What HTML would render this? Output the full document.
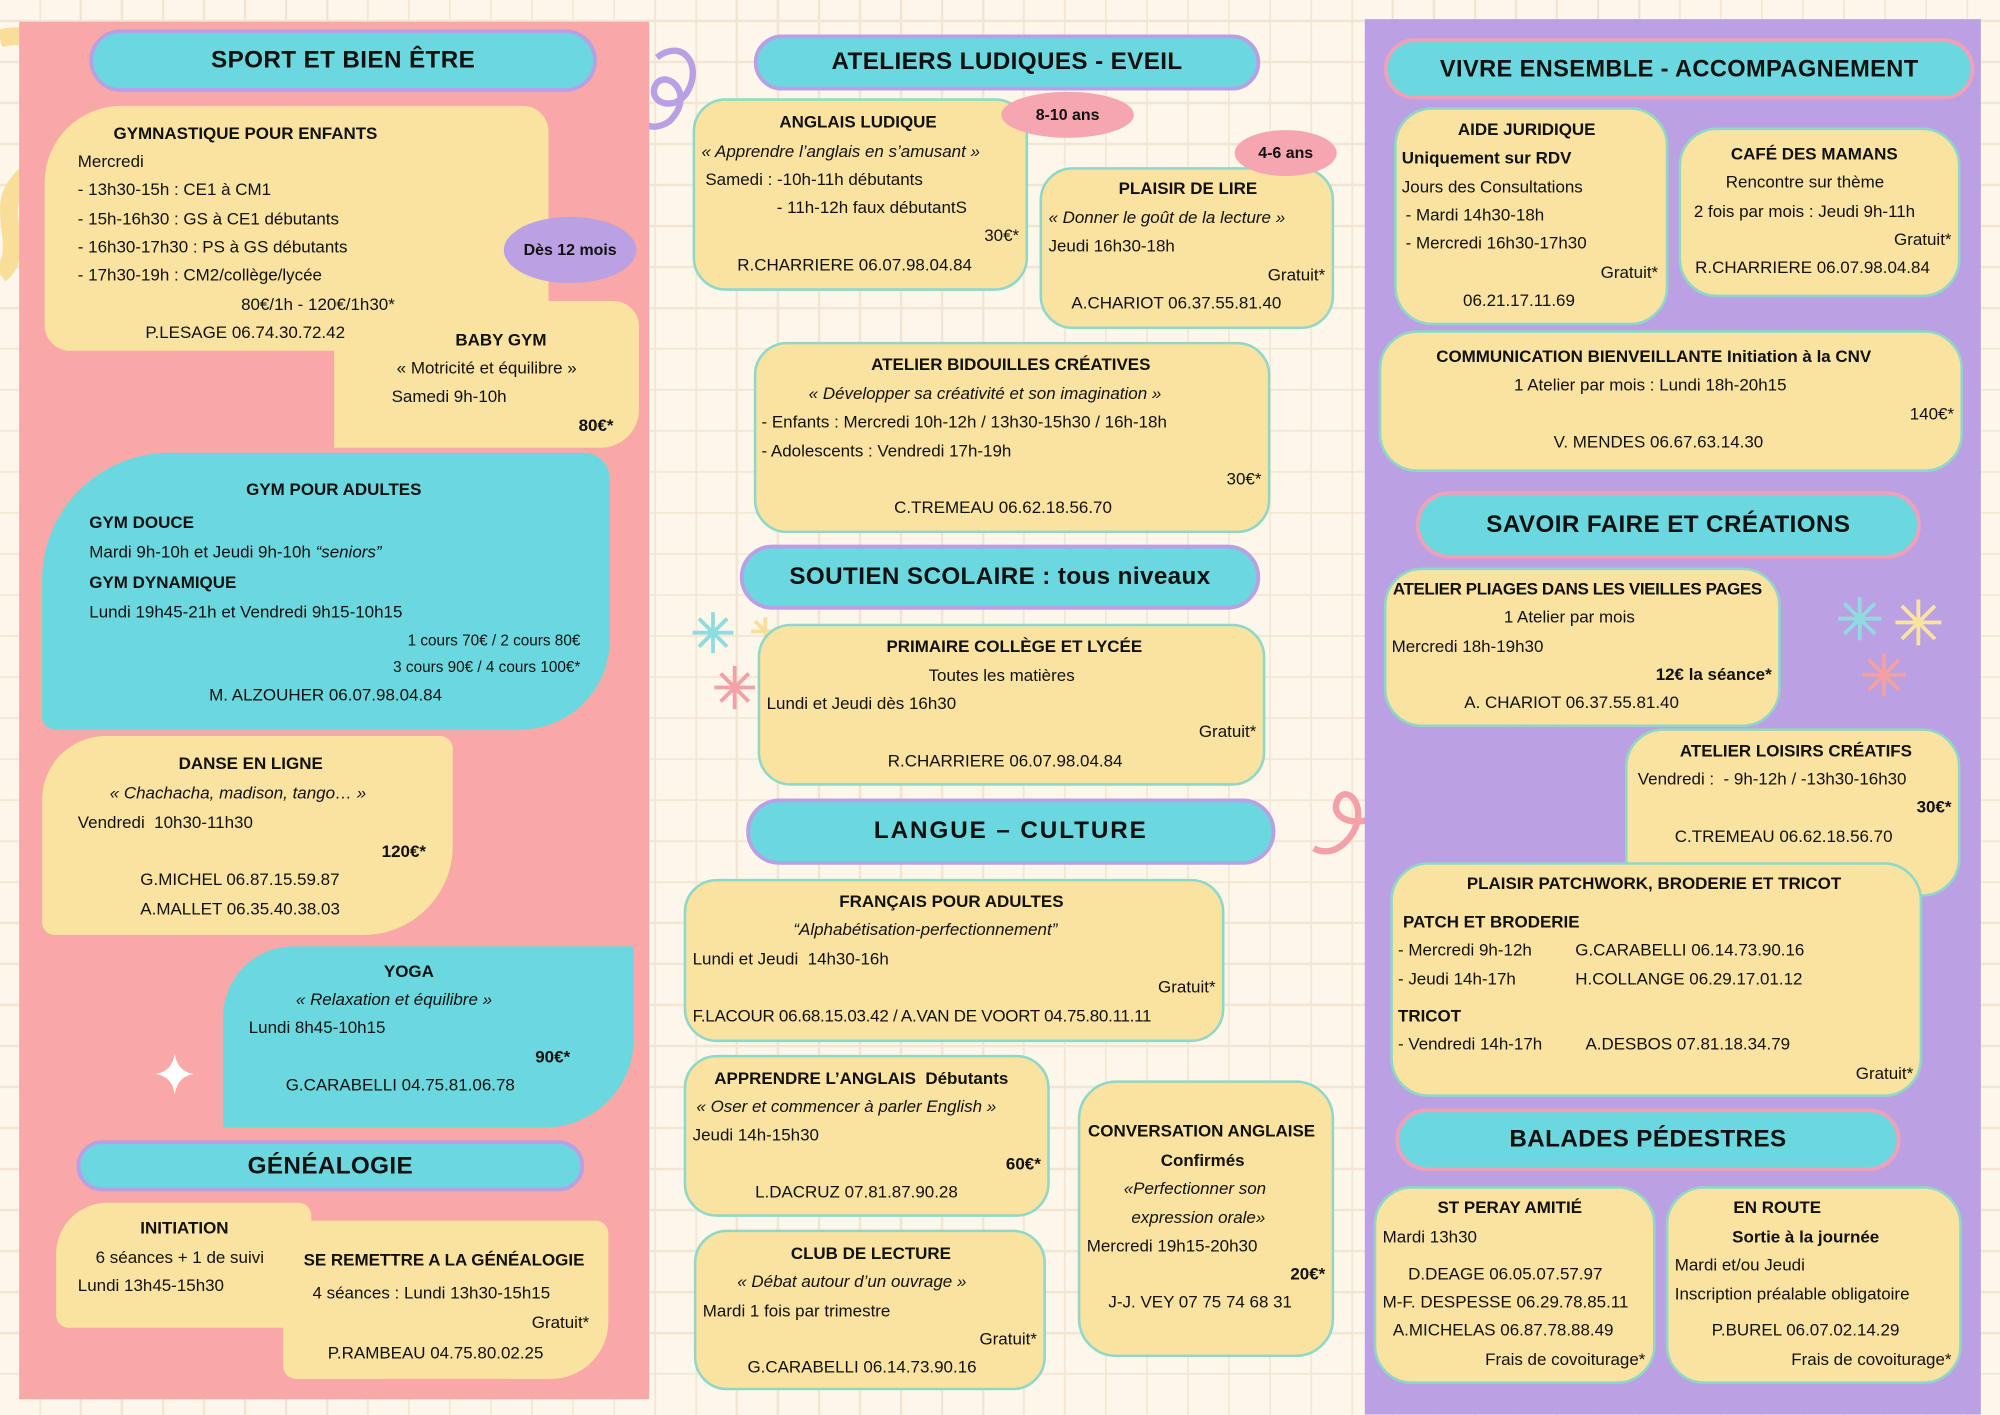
<!DOCTYPE html>
<html><head><meta charset="utf-8">
<style>
html,body{margin:0;padding:0;width:2000px;height:1414px;overflow:hidden}
body{background-color:#fdf6ea;background-image:repeating-linear-gradient(0deg,transparent 0 39px,#f3e5d3 39px 41px),repeating-linear-gradient(90deg,transparent 0 39px,#f3e5d3 39px 41px);}
#w{position:absolute;left:0;top:0;width:1568px;height:1109px;transform:scale(1.27551);transform-origin:0 0;font-family:"Liberation Sans",sans-serif;color:#111}
.pan{position:absolute}
.b{position:absolute;background:#fae2a0;box-sizing:border-box;border-radius:26px}
.bd{border:2px solid #8fd8c8}
.t{background:#6bd8df}
.b p{position:absolute;margin:0;font-size:13.3px;line-height:22px;white-space:nowrap}
.b p.r{right:7px}
.s{font-size:12px!important}
i{font-style:italic}
.h{position:absolute;box-sizing:border-box;background:#6bd8df;border:3px solid #b9a0e4;border-radius:30px;text-align:center;font-weight:bold;font-size:19px;letter-spacing:.3px;white-space:nowrap}
.hp{border-color:#f0a0b8}
.cl{position:absolute;border-radius:50%;font-weight:bold;font-size:12.5px;text-align:center}
</style></head><body><div id="w">
<svg style="position:absolute;left:0;top:0" width="1568" height="1109">
<path d="M0 30 C40 20 60 60 55 90 C50 120 20 130 10 150 C0 170 20 200 0 215" stroke="#f8de98" stroke-width="14" fill="none"/>
<path d="M515 45 C535 30 550 50 540 70 C530 90 505 80 515 65 C525 55 545 75 525 95 C510 105 500 95 505 90" stroke="#b9a0e4" stroke-width="5" fill="none"/>
<path d="M1078 600 C1100 600 1100 630 1080 640 C1060 650 1040 640 1050 625 C1060 615 1075 640 1055 660 C1045 670 1035 668 1030 665" stroke="#f4a0a8" stroke-width="5" fill="none"/>
<path d="M1345 1109 C1360 1090 1390 1085 1400 1100" stroke="#f8de98" stroke-width="10" fill="none"/>
<g stroke="#8fdce0" stroke-width="3"><line x1="559" y1="480" x2="559" y2="512"/><line x1="543" y1="496" x2="575" y2="496"/><line x1="548" y1="485" x2="570" y2="507"/><line x1="570" y1="485" x2="548" y2="507"/></g>
<g stroke="#f8de98" stroke-width="3"><line x1="600" y1="484" x2="600" y2="506"/><line x1="589" y1="495" x2="611" y2="495"/><line x1="592" y1="487" x2="608" y2="503"/></g>
<g stroke="#f4a0a8" stroke-width="3"><line x1="576" y1="522" x2="576" y2="556"/><line x1="560" y1="539" x2="592" y2="539"/><line x1="565" y1="528" x2="587" y2="550"/><line x1="587" y1="528" x2="565" y2="550"/></g>
</svg>
<div class="pan" style="left:15px;top:17px;width:494px;height:1080px;background:#f8a8a6"></div>
<div class="pan" style="left:1070px;top:15px;width:483px;height:1094px;background:#bba1e4"></div>
<svg style="position:absolute;left:0;top:0" width="1568" height="1109">
<g stroke="#8fdce0" stroke-width="3"><line x1="1458" y1="468" x2="1458" y2="502"/><line x1="1441" y1="485" x2="1475" y2="485"/><line x1="1446" y1="473" x2="1470" y2="497"/><line x1="1470" y1="473" x2="1446" y2="497"/></g>
<g stroke="#fae2a0" stroke-width="3"><line x1="1504" y1="470" x2="1504" y2="506"/><line x1="1486" y1="488" x2="1522" y2="488"/><line x1="1491" y1="475" x2="1517" y2="501"/><line x1="1517" y1="475" x2="1491" y2="501"/></g>
<g stroke="#f4a0a0" stroke-width="3"><line x1="1477" y1="512" x2="1477" y2="546"/><line x1="1460" y1="529" x2="1494" y2="529"/><line x1="1465" y1="517" x2="1489" y2="541"/><line x1="1489" y1="517" x2="1465" y2="541"/></g>
<path d="M137 826 Q139 840 152 842 Q139 844 137 858 Q135 844 122 842 Q135 840 137 826Z" fill="#fff"/>
<path d="M470 770 Q473 793 495 797 Q473 801 470 825 Q467 801 445 797 Q467 793 470 770Z" fill="#fae2a0"/>
</svg>

<div class="h" style="left:70px;top:23px;width:398px;height:49px;line-height:43px">SPORT ET BIEN ÊTRE</div>
<div class="b" style="left:262px;top:236px;width:239px;height:115px;border-radius:20px 20px 30px 0">
<p style="top:42px;left:49px">« Motricité et équilibre »</p>
<p style="top:64px;left:45px">Samedi 9h-10h</p>
<p class="r" style="top:87px;right:20px"><b>80€*</b></p>
</div>
<div class="b" style="left:35px;top:83px;width:395px;height:192px;border-radius:60px 20px 0 20px">
<p style="top:11px;left:54px"><b>GYMNASTIQUE POUR ENFANTS</b></p>
<p style="top:33px;left:26px">Mercredi</p>
<p style="top:55px;left:26px">- 13h30-15h : CE1 à CM1</p>
<p style="top:78px;left:26px">- 15h-16h30 : GS à CE1 débutants</p>
<p style="top:100px;left:26px">- 16h30-17h30 : PS à GS débutants</p>
<p style="top:122px;left:26px">- 17h30-19h : CM2/collège/lycée</p>
<p style="top:145px;left:154px">80€/1h - 120€/1h30*</p>
<p style="top:167px;left:79px">P.LESAGE 06.74.30.72.42</p>
</div>
<div style="position:absolute;left:357px;top:256px;font-size:13.3px;line-height:22px;font-weight:bold;white-space:nowrap">BABY GYM</div>
<div class="cl" style="left:395px;top:170px;width:104px;height:52px;line-height:52px;background:#bba1e4">Dès 12 mois</div>
<div class="b t" style="left:33px;top:355px;width:445px;height:217px;border-radius:100px 20px 70px 10px">
<p style="top:18px;left:160px"><b>GYM POUR ADULTES</b></p>
<p style="top:44px;left:37px"><b>GYM DOUCE</b></p>
<p style="top:67px;left:37px">Mardi 9h-10h et Jeudi 9h-10h <i>“seniors”</i></p>
<p style="top:91px;left:37px"><b>GYM DYNAMIQUE</b></p>
<p style="top:114px;left:37px">Lundi 19h45-21h et Vendredi 9h15-10h15</p>
<p class="r s" style="top:136px;right:23px">1 cours 70€ / 2 cours 80€</p>
<p class="r s" style="top:157px;right:23px">3 cours 90€ / 4 cours 100€*</p>
<p style="top:179px;left:131px">M. ALZOUHER 06.07.98.04.84</p>
</div>
<div class="b" style="left:33px;top:577px;width:322px;height:156px;border-radius:50px 10px 70px 10px">
<p style="top:11px;left:107px"><b>DANSE EN LIGNE</b></p>
<p style="top:34px;left:53px"><i>« Chachacha, madison, tango… »</i></p>
<p style="top:57px;left:28px">Vendredi&nbsp; 10h30-11h30</p>
<p class="r" style="top:80px;right:21px"><b>120€*</b></p>
<p style="top:102px;left:77px">G.MICHEL 06.87.15.59.87</p>
<p style="top:125px;left:77px">A.MALLET 06.35.40.38.03</p>
</div>
<div class="b t" style="left:175px;top:742px;width:322px;height:142px;border-radius:55px 0 70px 0">
<p style="top:9px;left:126px"><b>YOGA</b></p>
<p style="top:31px;left:57px"><i>« Relaxation et équilibre »</i></p>
<p style="top:53px;left:20px">Lundi 8h45-10h15</p>
<p class="r" style="top:76px;right:50px"><b>90€*</b></p>
<p style="top:98px;left:49px">G.CARABELLI 04.75.81.06.78</p>
</div>
<div class="h" style="left:60px;top:894px;width:398px;height:40px;line-height:35px">GÉNÉALOGIE</div>
<div class="b" style="left:44px;top:943px;width:200px;height:98px;border-radius:40px 10px 0 10px">
<p style="top:9px;left:66px"><b>INITIATION</b></p>
<p style="top:32px;left:31px">6 séances + 1 de suivi</p>
<p style="top:54px;left:17px">Lundi 13h45-15h30</p>
</div>
<div class="b" style="left:222px;top:957px;width:255px;height:124px;border-radius:20px 10px 45px 10px">
<p style="top:20px;left:16px"><b>SE REMETTRE A LA GÉNÉALOGIE</b></p>
<p style="top:46px;left:23px">4 séances : Lundi 13h30-15h15</p>
<p class="r" style="top:69px;right:15px">Gratuit*</p>
<p style="top:93px;left:35px">P.RAMBEAU 04.75.80.02.25</p>
</div>

<div class="h" style="left:591px;top:27px;width:397px;height:44px;line-height:38px">ATELIERS LUDIQUES - EVEIL</div>
<div class="b bd" style="left:543px;top:77px;width:263px;height:151px">
<p style="top:6px;left:66px"><b>ANGLAIS LUDIQUE</b></p>
<p style="top:29px;left:5px"><i>« Apprendre l’anglais en s’amusant »</i></p>
<p style="top:51px;left:8px">Samedi : -10h-11h débutants</p>
<p style="top:73px;left:64px">- 11h-12h faux débutantS</p>
<p class="r" style="top:95px;right:5px">30€*</p>
<p style="top:118px;left:33px">R.CHARRIERE 06.07.98.04.84</p>
</div>
<div class="cl" style="left:785px;top:72px;width:104px;height:36px;line-height:36px;background:#f6a6b0">8-10 ans</div>
<div class="b bd" style="left:815px;top:131px;width:231px;height:127px">
<p style="top:4px;left:60px"><b>PLAISIR DE LIRE</b></p>
<p style="top:27px;left:5px"><i>« Donner le goût de la lecture »</i></p>
<p style="top:49px;left:5px">Jeudi 16h30-18h</p>
<p class="r" style="top:72px;right:5px">Gratuit*</p>
<p style="top:94px;left:23px">A.CHARIOT 06.37.55.81.40</p>
</div>
<div class="cl" style="left:968px;top:102px;width:80px;height:36px;line-height:36px;background:#f6a6b0">4-6 ans</div>
<div class="b bd" style="left:591px;top:268px;width:405px;height:150px">
<p style="top:5px;left:90px"><b>ATELIER BIDOUILLES CRÉATIVES</b></p>
<p style="top:28px;left:41px"><i>« Développer sa créativité et son imagination »</i></p>
<p style="top:50px;left:4px">- Enfants : Mercredi 10h-12h / 13h30-15h30 / 16h-18h</p>
<p style="top:73px;left:4px">- Adolescents : Vendredi 17h-19h</p>
<p class="r" style="top:95px;right:5px">30€*</p>
<p style="top:117px;left:108px">C.TREMEAU 06.62.18.56.70</p>
</div>
<div class="h" style="left:580px;top:427px;width:408px;height:51px;line-height:45px">SOUTIEN SCOLAIRE : tous niveaux</div>
<div class="b bd" style="left:594px;top:489px;width:398px;height:127px">
<p style="top:5px;left:99px"><b>PRIMAIRE COLLÈGE ET LYCÉE</b></p>
<p style="top:28px;left:132px">Toutes les matières</p>
<p style="top:50px;left:5px">Lundi et Jeudi dès 16h30</p>
<p class="r" style="top:72px;right:5px">Gratuit*</p>
<p style="top:95px;left:100px">R.CHARRIERE 06.07.98.04.84</p>
</div>
<div class="h" style="left:585px;top:626px;width:415px;height:52px;line-height:46px;letter-spacing:1.5px">LANGUE – CULTURE</div>
<div class="b bd" style="left:536px;top:689px;width:424px;height:128px">
<p style="top:5px;left:120px"><b>FRANÇAIS POUR ADULTES</b></p>
<p style="top:27px;left:84px"><i>“Alphabétisation-perfectionnement”</i></p>
<p style="top:50px;left:5px">Lundi et Jeudi&nbsp; 14h30-16h</p>
<p class="r" style="top:72px;right:5px">Gratuit*</p>
<p style="top:95px;left:5px;letter-spacing:-.2px">F.LACOUR 06.68.15.03.42 / A.VAN DE VOORT 04.75.80.11.11</p>
</div>
<div class="b bd" style="left:536px;top:827px;width:287px;height:127px">
<p style="top:6px;left:22px"><b>APPRENDRE L’ANGLAIS&nbsp; Débutants</b></p>
<p style="top:28px;left:8px"><i>« Oser et commencer à parler English »</i></p>
<p style="top:50px;left:5px">Jeudi 14h-15h30</p>
<p class="r" style="top:73px;right:5px"><b>60€*</b></p>
<p style="top:95px;left:54px">L.DACRUZ 07.81.87.90.28</p>
</div>
<div class="b bd" style="left:845px;top:847px;width:201px;height:217px;border-radius:30px">
<p style="top:27px;left:6px"><b>CONVERSATION ANGLAISE</b></p>
<p style="top:50px;left:63px"><b>Confirmés</b></p>
<p style="top:72px;left:34px"><i>«Perfectionner son</i></p>
<p style="top:95px;left:40px"><i>expression orale»</i></p>
<p style="top:117px;left:5px">Mercredi 19h15-20h30</p>
<p class="r" style="top:139px;right:5px"><b>20€*</b></p>
<p style="top:161px;left:22px">J-J. VEY 07 75 74 68 31</p>
</div>
<div class="b bd" style="left:544px;top:964px;width:276px;height:126px">
<p style="top:6px;left:74px"><b>CLUB DE LECTURE</b></p>
<p style="top:28px;left:32px"><i>« Débat autour d’un ouvrage »</i></p>
<p style="top:51px;left:5px">Mardi 1 fois par trimestre</p>
<p class="r" style="top:73px;right:5px">Gratuit*</p>
<p style="top:95px;left:40px">G.CARABELLI 06.14.73.90.16</p>
</div>

<div class="h hp" style="left:1085px;top:30px;width:463px;height:48px;line-height:42px;font-size:18.5px">VIVRE ENSEMBLE - ACCOMPAGNEMENT</div>
<div class="b bd" style="left:1093px;top:84px;width:215px;height:171px;border-radius:30px">
<p style="top:5px;left:48px"><b>AIDE JURIDIQUE</b></p>
<p style="top:27px;left:4px"><b>Uniquement sur RDV</b></p>
<p style="top:50px;left:4px">Jours des Consultations</p>
<p style="top:72px;left:7px">- Mardi 14h30-18h</p>
<p style="top:94px;left:7px">- Mercredi 16h30-17h30</p>
<p class="r" style="top:117px;right:6px">Gratuit*</p>
<p style="top:139px;left:52px">06.21.17.11.69</p>
</div>
<div class="b bd" style="left:1316px;top:100px;width:221px;height:133px;border-radius:30px">
<p style="top:8px;left:39px"><b>CAFÉ DES MAMANS</b></p>
<p style="top:30px;left:35px">Rencontre sur thème</p>
<p style="top:53px;left:10px">2 fois par mois : Jeudi 9h-11h</p>
<p class="r" style="top:75px;right:5px">Gratuit*</p>
<p style="top:97px;left:11px">R.CHARRIERE 06.07.98.04.84</p>
</div>
<div class="b bd" style="left:1081px;top:259px;width:458px;height:111px;border-radius:30px">
<p style="top:8px;left:43px"><b>COMMUNICATION BIENVEILLANTE Initiation à la CNV</b></p>
<p style="top:30px;left:104px">1 Atelier par mois : Lundi 18h-20h15</p>
<p class="r" style="top:53px;right:5px">140€*</p>
<p style="top:75px;left:135px">V. MENDES 06.67.63.14.30</p>
</div>
<div class="h hp" style="left:1110px;top:385px;width:396px;height:53px;line-height:47px">SAVOIR FAIRE ET CRÉATIONS</div>
<div class="b bd" style="left:1085px;top:445px;width:311px;height:125px;border-radius:30px">
<p style="top:4px;left:5px;letter-spacing:-.3px"><b>ATELIER PLIAGES DANS LES VIEILLES PAGES</b></p>
<p style="top:26px;left:92px">1 Atelier par mois</p>
<p style="top:49px;left:4px">Mercredi 18h-19h30</p>
<p class="r" style="top:71px;right:5px"><b>12€ la séance*</b></p>
<p style="top:93px;left:61px">A. CHARIOT 06.37.55.81.40</p>
</div>
<div class="b bd" style="left:1274px;top:571px;width:263px;height:132px;border-radius:30px">
<p style="top:5px;left:41px"><b>ATELIER LOISIRS CRÉATIFS</b></p>
<p style="top:27px;left:8px">Vendredi :&nbsp; - 9h-12h / -13h30-16h30</p>
<p class="r" style="top:49px;right:5px"><b>30€*</b></p>
<p style="top:72px;left:37px">C.TREMEAU 06.62.18.56.70</p>
</div>
<div class="b bd" style="left:1090px;top:676px;width:417px;height:184px;border-radius:30px">
<p style="top:4px;left:58px"><b>PLAISIR PATCHWORK, BRODERIE ET TRICOT</b></p>
<p style="top:34px;left:8px"><b>PATCH ET BRODERIE</b></p>
<p style="top:56px;left:4px">- Mercredi 9h-12h</p><p style="top:56px;left:143px">G.CARABELLI 06.14.73.90.16</p>
<p style="top:79px;left:4px">- Jeudi 14h-17h</p><p style="top:79px;left:143px">H.COLLANGE 06.29.17.01.12</p>
<p style="top:108px;left:4px"><b>TRICOT</b></p>
<p style="top:130px;left:4px">- Vendredi 14h-17h</p><p style="top:130px;left:151px">A.DESBOS 07.81.18.34.79</p>
<p class="r" style="top:153px;right:5px">Gratuit*</p>
</div>
<div class="h hp" style="left:1094px;top:869px;width:396px;height:49px;line-height:43px">BALADES PÉDESTRES</div>
<div class="b bd" style="left:1077px;top:930px;width:221px;height:155px;border-radius:30px">
<p style="top:4px;left:48px"><b>ST PERAY AMITIÉ</b></p>
<p style="top:27px;left:5px">Mardi 13h30</p>
<p style="top:56px;left:25px">D.DEAGE 06.05.07.57.97</p>
<p style="top:78px;left:5px">M-F. DESPESSE 06.29.78.85.11</p>
<p style="top:100px;left:13px">A.MICHELAS 06.87.78.88.49</p>
<p class="r" style="top:123px;right:6px">Frais de covoiturage*</p>
</div>
<div class="b bd" style="left:1306px;top:930px;width:232px;height:155px;border-radius:30px">
<p style="top:4px;left:51px"><b>EN ROUTE</b></p>
<p style="top:27px;left:50px"><b>Sortie à la journée</b></p>
<p style="top:49px;left:5px">Mardi et/ou Jeudi</p>
<p style="top:72px;left:5px">Inscription préalable obligatoire</p>
<p style="top:100px;left:34px">P.BUREL 06.07.02.14.29</p>
<p class="r" style="top:123px;right:6px">Frais de covoiturage*</p>
</div>
</div></body></html>
